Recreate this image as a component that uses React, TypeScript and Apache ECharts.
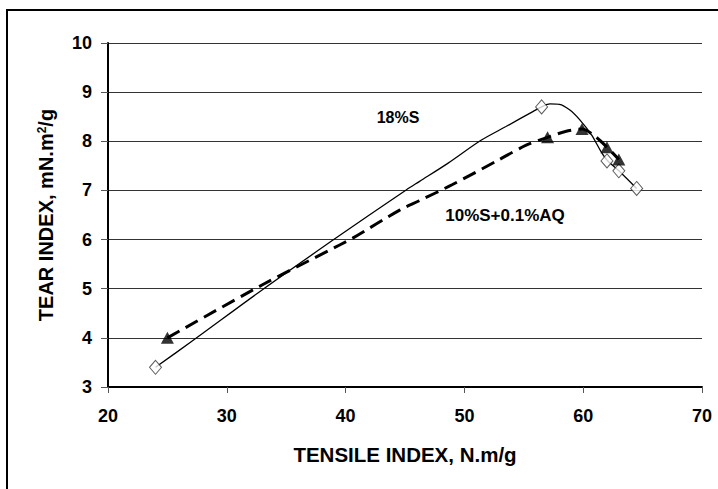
import React, { useEffect, useRef } from "react";
import * as echarts from "echarts";

// Marker data
const tensile18S = [24.0, 56.5, 62.0, 63.0, 64.5];
const tear18S = [3.4, 8.7, 7.6, 7.4, 7.04];
const tensileAQ = [25.0, 57.0, 59.9, 62.0, 63.0];
const tearAQ = [4.0, 8.08, 8.25, 7.88, 7.63];

// Traced fitted curves
const curve18SX = [24.0, 27.0, 33.0, 39.0, 42.0, 45.1, 46.2, 48.6, 51.4, 53.5, 55.8, 56.5, 57.2, 58.0, 58.85, 59.7, 60.7, 61.5, 62.0, 63.0, 64.5];
const curve18SY = [3.4, 3.92, 4.98, 6.0, 6.5, 7.01, 7.18, 7.55, 8.02, 8.3, 8.61, 8.7, 8.76, 8.75, 8.64, 8.44, 8.13, 7.79, 7.62, 7.4, 7.04];
const curveAQX = [25.0, 33.0, 39.5, 40.6, 44.55, 46.2, 49.0, 52.95, 55.2, 57.0, 58.5, 59.9, 61.0, 62.0, 63.0];
const curveAQY = [4.0, 5.08, 5.89, 6.03, 6.6, 6.79, 7.12, 7.63, 7.92, 8.08, 8.2, 8.25, 8.1, 7.88, 7.63];

const xTicks = { min: 20, max: 70, interval: 10 };
const yTicks = { min: 3, max: 10, interval: 1 };

const xTitle = "TENSILE INDEX, N.m/g";
const yTitle = "TEAR INDEX, mN.m{sup|2}/g";
const label18S = "18%S";
const labelAQ = "10%S+0.1%AQ";

const FONT = '"Liberation Sans", Arial, Helvetica, sans-serif';

const zip = (xs: number[], ys: number[]) => xs.map((x, i) => [x, ys[i]]);

export default function App() {
  const ref = useRef<HTMLDivElement>(null);
  useEffect(() => {
    if (!ref.current) return;
    const chart = echarts.init(ref.current, null, { renderer: "svg" });
    chart.setOption({
      animation: false,
      backgroundColor: "#fff",
      grid: { left: 108, right: 16, top: 43, bottom: 102 },
      xAxis: {
        type: "value",
        ...xTicks,
        name: xTitle,
        nameLocation: "middle",
        nameGap: 57,
        nameTextStyle: { fontFamily: FONT, fontSize: 20.5, fontWeight: "bold", color: "#000" },
        axisLine: { show: true, lineStyle: { color: "#000", width: 2 } },
        axisTick: { show: true, length: 6, lineStyle: { color: "#555", width: 1 } },
        axisLabel: { fontFamily: FONT, fontSize: 18, fontWeight: "bold", color: "#000", margin: 20 },
        splitLine: { show: false },
      },
      yAxis: {
        type: "value",
        ...yTicks,
        name: yTitle,
        nameLocation: "middle",
        nameRotate: 90,
        nameGap: 52,
        nameTextStyle: {
          fontFamily: FONT,
          fontSize: 20,
          fontWeight: "bold",
          color: "#000",
          rich: {
            sup: { fontFamily: FONT, fontSize: 12, fontWeight: "bold", color: "#000", verticalAlign: "top", padding: [0, 0, 8, 0] },
          },
        },
        axisLine: { show: true, lineStyle: { color: "#000", width: 2 } },
        axisTick: { show: true, length: 7, lineStyle: { color: "#555", width: 1 } },
        axisLabel: { fontFamily: FONT, fontSize: 18, fontWeight: "bold", color: "#000", margin: 16 },
        splitLine: { show: true, lineStyle: { color: "#333", width: 1 } },
      },
      graphic: [
        {
          type: "rect",
          shape: { x: 7, y: 10, width: 800, height: 600 },
          style: { fill: "none", stroke: "#000", lineWidth: 2 },
          silent: true,
        },
        {
          type: "text",
          x: 398,
          y: 117,
          style: { text: label18S, fontFamily: FONT, fontSize: 16, fontWeight: "bold", fill: "#000", align: "center", verticalAlign: "middle" },
        },
        {
          type: "text",
          x: 505,
          y: 215,
          style: { text: labelAQ, fontFamily: FONT, fontSize: 17, fontWeight: "bold", fill: "#000", align: "center", verticalAlign: "middle" },
        },
      ],
      series: [
        {
          name: "18%S curve",
          type: "line",
          data: zip(curve18SX, curve18SY),
          showSymbol: false,
          smooth: 0.3,
          lineStyle: { color: "#000", width: 1.3 },
          z: 2,
        },
        {
          name: "10%S+0.1%AQ curve",
          type: "line",
          data: zip(curveAQX, curveAQY),
          showSymbol: false,
          smooth: 0.3,
          lineStyle: { color: "#000", width: 3, type: [14, 7], cap: "butt" },
          z: 2,
        },
        {
          name: "18%S",
          type: "scatter",
          data: zip(tensile18S, tear18S),
          symbol: "diamond",
          symbolSize: [12, 14],
          itemStyle: { color: "#fff", borderColor: "#333", borderWidth: 1 },
          z: 3,
        },
        {
          name: "10%S+0.1%AQ",
          type: "scatter",
          data: zip(tensileAQ, tearAQ),
          symbol: "triangle",
          symbolSize: [13, 12],
          itemStyle: { color: "#000", borderColor: "#000", borderWidth: 0 },
          z: 4,
        },
      ],
    });
    return () => chart.dispose();
  }, []);
  return <div ref={ref} style={{ position: "absolute", left: 0, top: 0, width: 718, height: 489 }} />;
}
